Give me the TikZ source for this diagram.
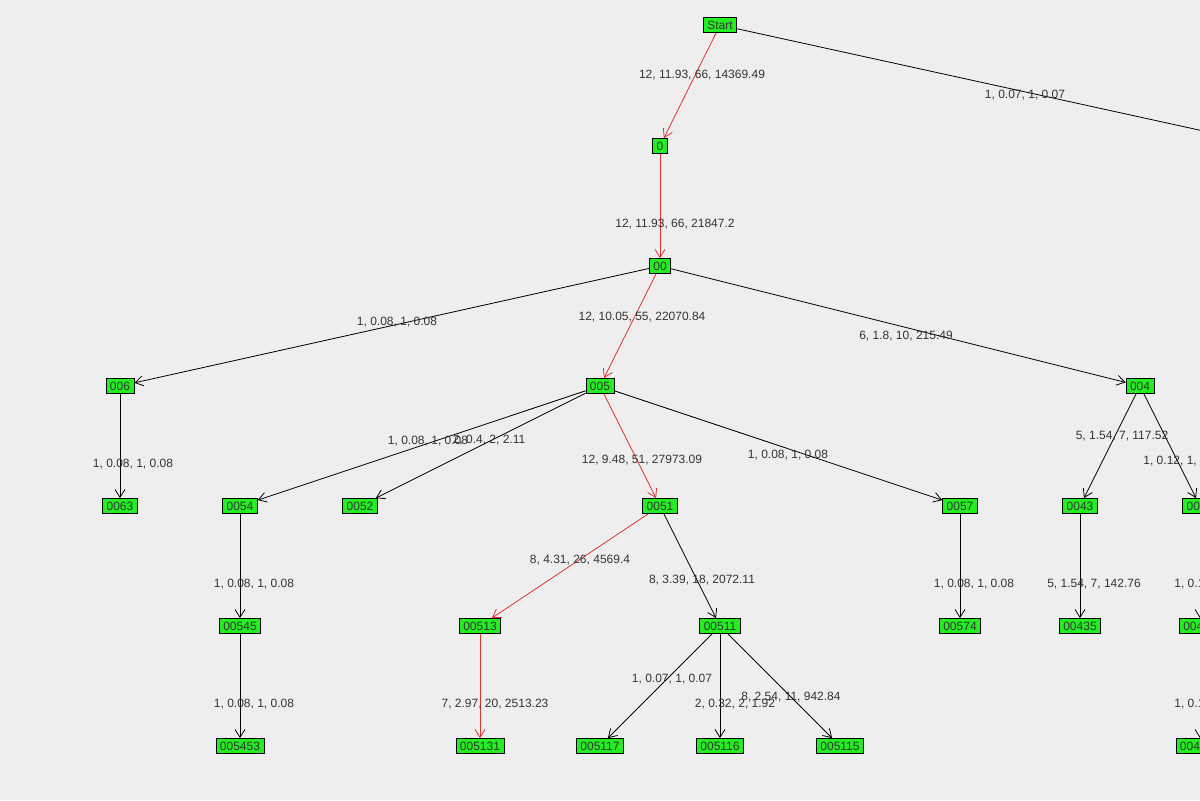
\documentclass[tikz,border=0pt]{standalone}
\usepackage{fontspec}
\setmainfont{Liberation Sans}
\usepackage{xcolor}
\usetikzlibrary{arrows.meta}
\definecolor{bgc}{HTML}{EEEEEE}
\definecolor{nodec}{HTML}{22EE22}
\definecolor{txtc}{HTML}{333333}
\definecolor{hotc}{HTML}{E03030}

\begin{document}
\begin{tikzpicture}[
    x=0.5pt, y=-0.5pt,
    box/.style={rectangle, draw, fill=nodec, inner xsep=2pt, inner ysep=1pt, minimum height=7.5pt, font=\fontsize{6}{6.5}\selectfont, text=black!80},
    lbl/.style={font=\fontsize{6}{6.5}\selectfont, text=txtc, inner sep=0pt},
    arrow/.style={-{Straight Barb[length=4pt, width=5pt]}, line width=0.4pt},
    hot/.style={arrow, draw=hotc}
  ]
    \fill[bgc] (0,0) rectangle (1200,800);
    \useasboundingbox (0,0) rectangle (1200,800);
    \clip (0,0) rectangle (1200,800);
    % nodes
    \node[box] (start) at (720,25) {Start};
    \node[box] (n01) at (1272,146) {01};
    \node[box] (n0) at (660,146) {0};
    \node[box] (n00) at (660,266) {00};
    \node[box] (n006) at (120,386) {006};
    \node[box] (n005) at (600,386) {005};
    \node[box] (n004) at (1140,386) {004};
    \node[box] (n0063) at (120,506) {0063};
    \node[box] (n0054) at (240,506) {0054};
    \node[box] (n0052) at (360,506) {0052};
    \node[box] (n0051) at (660,506) {0051};
    \node[box] (n0057) at (960,506) {0057};
    \node[box] (n0043) at (1080,506) {0043};
    \node[box] (n0041) at (1200,506) {0041};
    \node[box] (n00545) at (240,626) {00545};
    \node[box] (n00513) at (480,626) {00513};
    \node[box] (n00511) at (720,626) {00511};
    \node[box] (n00574) at (960,626) {00574};
    \node[box] (n00435) at (1080,626) {00435};
    \node[box] (n00412) at (1200,626) {00412};
    \node[box] (n005453) at (240,746) {005453};
    \node[box] (n005131) at (480,746) {005131};
    \node[box] (n005117) at (600,746) {005117};
    \node[box] (n005116) at (720,746) {005116};
    \node[box] (n005115) at (840,746) {005115};
    \node[box] (n004121) at (1200,746) {004121};

    % connectors
    \draw[hot] (start) -- (n0);
    \draw[arrow] (start) -- (n01);
    \draw[hot] (n0) -- (n00);
    \draw[arrow] (n00) -- (n006);
    \draw[hot] (n00) -- (n005);
    \draw[arrow] (n00) -- (n004);
    \draw[arrow] (n006) -- (n0063);
    \draw[arrow] (n005) -- (n0054);
    \draw[arrow] (n005) -- (n0052);
    \draw[hot] (n005) -- (n0051);
    \draw[arrow] (n005) -- (n0057);
    \draw[arrow] (n004) -- (n0043);
    \draw[arrow] (n004) -- (n0041);
    \draw[arrow] (n0054) -- (n00545);
    \draw[hot] (n0051) -- (n00513);
    \draw[arrow] (n0051) -- (n00511);
    \draw[arrow] (n0057) -- (n00574);
    \draw[arrow] (n0043) -- (n00435);
    \draw[arrow] (n0041) -- (n00412);
    \draw[arrow] (n00545) -- (n005453);
    \draw[hot] (n00513) -- (n005131);
    \draw[arrow] (n00511) -- (n005117);
    \draw[arrow] (n00511) -- (n005116);
    \draw[arrow] (n00511) -- (n005115);
    \draw[arrow] (n00412) -- (n004121);

    % labels
    \node[lbl] (l1) at (702,75) {12, 11.93, 66, 14369.49};
    \node[lbl] (l2) at (1025,95) {1, 0.07, 1, 0.07};
    \node[lbl] (l3) at (675,224) {12, 11.93, 66, 21847.2};
    \node[lbl] (l4) at (397,322) {1, 0.08, 1, 0.08};
    \node[lbl] (l5) at (642,317) {12, 10.05, 55, 22070.84};
    \node[lbl] (l6) at (906,336) {6, 1.8, 10, 215.49};
    \node[lbl] (l7) at (133,464) {1, 0.08, 1, 0.08};
    \node[lbl] (l8) at (428,441) {1, 0.08, 1, 0.08};
    \node[lbl] (l9) at (489,440) {2, 0.4, 2, 2.11};
    \node[lbl] (l10) at (642,460) {12, 9.48, 51, 27973.09};
    \node[lbl] (l11) at (788,455) {1, 0.08, 1, 0.08};
    \node[lbl] (l12) at (1122,436) {5, 1.54, 7, 117.52};
    \node[lbl, anchor=west] (l13) at (1143,461) {1, 0.12, 1, 0.12};
    \node[lbl] (l14) at (254,584) {1, 0.08, 1, 0.08};
    \node[lbl] (l15) at (580,560) {8, 4.31, 26, 4569.4};
    \node[lbl] (l16) at (702,580) {8, 3.39, 18, 2072.11};
    \node[lbl] (l17) at (974,584) {1, 0.08, 1, 0.08};
    \node[lbl] (l18) at (1094,584) {5, 1.54, 7, 142.76};
    \node[lbl, anchor=west] (l19) at (1174,584) {1, 0.12, 1, 0.12};
    \node[lbl] (l20) at (254,704) {1, 0.08, 1, 0.08};
    \node[lbl] (l21) at (495,704) {7, 2.97, 20, 2513.23};
    \node[lbl] (l22) at (672,679) {1, 0.07, 1, 0.07};
    \node[lbl] (l23) at (735,704) {2, 0.32, 2, 1.92};
    \node[lbl] (l24) at (791,697) {8, 2.54, 11, 942.84};
    \node[lbl, anchor=west] (l25) at (1174,704) {1, 0.12, 1, 0.12};
\end{tikzpicture}
\end{document}
